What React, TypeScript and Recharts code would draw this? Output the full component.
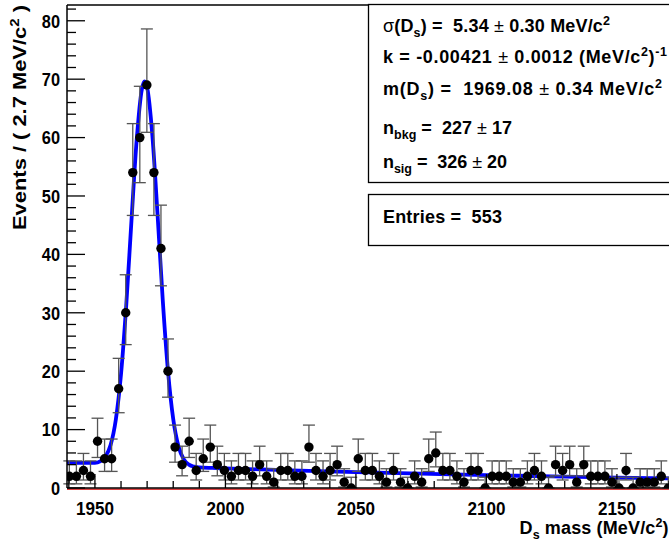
import React from "react";
import { ComposedChart, Line, Scatter, ErrorBar, XAxis, YAxis, ReferenceLine } from "recharts";

// histogram bins (2.7 MeV/c^2 wide), centres in MeV/c^2
const BIN_CENTERS = [
  1940.2, 1942.9, 1945.6, 1948.3, 1951.0, 1953.7, 1956.4, 1959.1, 1961.8, 1964.5,
  1967.2, 1969.9, 1972.6, 1975.3, 1978.0, 1980.7, 1983.4, 1986.1, 1988.8, 1991.5,
  1994.2, 1996.9, 1999.6, 2002.3, 2005.0, 2007.7, 2010.4, 2013.1, 2015.8, 2018.5,
  2021.2, 2023.9, 2026.6, 2029.3, 2032.0, 2034.7, 2037.4, 2040.1, 2042.8, 2045.5,
  2048.2, 2050.9, 2053.6, 2056.3, 2059.0, 2061.7, 2064.4, 2067.1, 2069.8, 2072.5,
  2075.2, 2077.9, 2080.6, 2083.3, 2086.0, 2088.7, 2091.4, 2094.1, 2096.8, 2099.5,
  2102.2, 2104.9, 2107.6, 2110.3, 2113.0, 2115.7, 2118.4, 2121.1, 2123.8, 2126.5,
  2129.2, 2131.9, 2134.6, 2137.3, 2140.0, 2142.7, 2145.4, 2148.1, 2150.8, 2153.5,
  2156.2, 2158.9, 2161.6, 2164.3, 2167.0, 2169.7,
];

const COUNTS = [
  2, 2, 3, 2, 8, 5, 5, 17, 30, 54,
  60, 69, 54, 41, 20, 7, 4, 8, 3, 5,
  7, 4, 3, 2, 3, 3, 2, 4, 2, 1,
  3, 3, 2, 2, 7, 3, 2, 3, 4, 1,
  0, 5, 3, 3, 2, 1, 3, 1, 0, 2,
  1, 5, 6, 3, 3, 2, 1, 3, 3, 0,
  2, 2, 2, 1, 1, 2, 3, 2, 0, 4,
  3, 4, 1, 4, 2, 2, 2, 1, 0, 3,
  0, 1, 1, 1, 2, 0,
];

// asymmetric (Poisson) error bar lengths, looked up by count
const ERR_LO: Record<number, number> = {
  0: 0, 1: 0.83, 2: 1.29, 3: 1.63, 4: 1.91, 5: 2.16, 6: 2.38, 7: 2.58, 8: 2.77,
  17: 4.11, 20: 4.45, 30: 5.45, 41: 6.38, 54: 7.33, 60: 7.72, 69: 8.1,
};
const ERR_HI: Record<number, number> = {
  0: 1.84, 1: 2.3, 2: 2.64, 3: 2.92, 4: 3.16, 5: 3.38, 6: 3.58, 7: 3.77, 8: 3.95,
  17: 5.2, 20: 5.52, 30: 6.51, 41: 7.43, 54: 8.39, 60: 8.78, 69: 9.6,
};

// fitted curve (gauss + exponential)
const FIT_X = [
  1939.3, 1945, 1950, 1952, 1954, 1956, 1958, 1960, 1962, 1964, 1966, 1968, 1969,
  1970, 1972, 1974, 1976, 1978, 1980, 1982, 1984, 1986, 1988, 1990, 1995, 2000,
  2025, 2050, 2075, 2100, 2125, 2150, 2175, 2190,
];
const FIT_Y = [
  4.4, 4.3, 4.3, 4.55, 5.35, 7.35, 11.7, 19.5, 31.3, 45.8, 59.6, 68.3, 69.6,
  68.6, 60.4, 46.8, 32.1, 20.0, 11.8, 7.15, 4.95, 4.0, 3.65, 3.53, 3.43, 3.36,
  3.03, 2.73, 2.46, 2.21, 1.99, 1.79, 1.61, 1.52,
];

const X_TICKS = [1940, 1950, 1960, 1970, 1980, 1990, 2000, 2010, 2020, 2030, 2040, 2050, 2060, 2070, 2080, 2090, 2100, 2110, 2120, 2130, 2140, 2150, 2160, 2170, 2180];
const X_LABELS = [1950, 2000, 2050, 2100, 2150];
const Y_TICKS = [0, 2, 4, 6, 8, 10, 12, 14, 16, 18, 20, 22, 24, 26, 28, 30, 32, 34, 36, 38, 40, 42, 44, 46, 48, 50, 52, 54, 56, 58, 60, 62, 64, 66, 68, 70, 72, 74, 76, 78, 80, 82];
const Y_LABELS = [0, 10, 20, 30, 40, 50, 60, 70, 80];

const X_MIN = 1939.3;
const X_MAX = 2189.5;
const Y_MAX = 82.7;

const FONT = '"Liberation Sans", Arial, Helvetica, sans-serif';

const points = BIN_CENTERS.map((x, i) => ({
  x,
  y: COUNTS[i],
  err: [ERR_LO[COUNTS[i]], ERR_HI[COUNTS[i]]],
}));
const fit = FIT_X.map((x, i) => ({ x, y: FIT_Y[i] }));

function YTick(props: any) {
  const { x, y, payload } = props;
  const major = Y_LABELS.includes(payload.value);
  const s = String(payload.value);
  return (
    <g>
      <line x1={x} x2={x + (major ? 18 : 9)} y1={y} y2={y} stroke="#000" strokeWidth={1.3} />
      {major && (
        <text x={x - 7} y={y + 6.8} textAnchor="end" fontFamily={FONT} fontWeight="bold" fontSize={18.5}
          fill="#000" textLength={s.length * 9.1} lengthAdjust="spacingAndGlyphs">
          {s}
        </text>
      )}
    </g>
  );
}

function XTick(props: any) {
  const { x, y, payload } = props;
  const major = X_LABELS.includes(payload.value);
  return (
    <g>
      <line x1={x} x2={x} y1={y} y2={y - (major ? 14 : 7)} stroke="#000" strokeWidth={1.3} />
      {major && (
        <text x={x} y={y + 26.5} textAnchor="middle" fontFamily={FONT} fontWeight="bold" fontSize={19}
          fill="#000" textLength={38} lengthAdjust="spacingAndGlyphs">
          {payload.value}
        </text>
      )}
    </g>
  );
}

function Dot(props: any) {
  const { cx, cy } = props;
  return <circle cx={cx} cy={cy} r={4.7} fill="#000" />;
}

const N = { fontWeight: "normal" } as const;

// one line of the parameter box; baseline y, reference width w
function BoxLine({ y, w, children }: { y: number; w: number; children: React.ReactNode }) {
  return (
    <text x={383} y={y} textLength={w} lengthAdjust="spacing" style={{ whiteSpace: "pre" }}>
      {children}
    </text>
  );
}

export default function App() {
  return (
    <div style={{ position: "fixed", left: 0, top: 0, width: 669, height: 544, overflow: "hidden", background: "#fff" }}>
      <ComposedChart width={720} height={544} margin={{ top: 5, right: 0, bottom: 0, left: 7 }}>
        <XAxis
          type="number"
          dataKey="x"
          domain={[X_MIN, X_MAX]}
          ticks={X_TICKS}
          interval={0}
          height={56}
          tickSize={0}
          tickMargin={0}
          tickLine={false}
          axisLine={{ stroke: "#000", strokeWidth: 1.5 }}
          tick={<XTick />}
          allowDataOverflow
        />
        <YAxis
          type="number"
          dataKey="y"
          domain={[0, Y_MAX]}
          ticks={Y_TICKS}
          interval={0}
          width={60}
          tickSize={0}
          tickMargin={0}
          tickLine={false}
          axisLine={{ stroke: "#000", strokeWidth: 1.5 }}
          tick={<YTick />}
          allowDataOverflow
        />
        <ReferenceLine y={Y_MAX} stroke="#000" strokeWidth={1.5} />
        <ReferenceLine y={-0.2} stroke="#d00000" strokeWidth={1.2} ifOverflow="visible" />
        <Line data={fit} dataKey="y" type="monotone" stroke="#0000ff" strokeWidth={3.8} dot={false} activeDot={false} isAnimationActive={false} />
        <Scatter data={points} dataKey="y" shape={<Dot />} isAnimationActive={false}>
          <ErrorBar dataKey="err" direction="y" width={6} stroke="#555" strokeWidth={1.3} isAnimationActive={false} />
        </Scatter>
      </ComposedChart>

      <svg width={669} height={544} style={{ position: "absolute", left: 0, top: 0, pointerEvents: "none" }}
        fontFamily={FONT} fontWeight="bold" fontSize={18} fill="#000">
        {/* fit parameter box */}
        <rect x={368.5} y={4.5} width={400} height={178} fill="#fff" stroke="#000" strokeWidth={1.3} />
        <BoxLine y={31.5} w={227}>
          <tspan style={N}>σ</tspan>(D<tspan dy={5} fontSize={12.5}>s</tspan>
          <tspan dy={-5}>) =  5.34 </tspan><tspan style={N}>±</tspan> 0.30 MeV/c
          <tspan dy={-7} fontSize={12.5}>2</tspan>
        </BoxLine>
        <BoxLine y={63.2} w={284}>
          k = -0.00421 <tspan style={N}>±</tspan> 0.0012 (MeV/c<tspan dy={-7} fontSize={12.5}>2</tspan>
          <tspan dy={7}>)</tspan><tspan dy={-7} fontSize={12.5}>-1</tspan>
        </BoxLine>
        <BoxLine y={94.8} w={279}>
          m(D<tspan dy={5} fontSize={12.5}>s</tspan>
          <tspan dy={-5}>) =  1969.08 </tspan><tspan style={N}>±</tspan> 0.34 MeV/c
          <tspan dy={-7} fontSize={12.5}>2</tspan>
        </BoxLine>
        <BoxLine y={134.2} w={129}>
          n<tspan dy={5} fontSize={12.5}>bkg</tspan>
          <tspan dy={-5}> =  227 </tspan><tspan style={N}>±</tspan> 17
        </BoxLine>
        <BoxLine y={168.2} w={124}>
          n<tspan dy={5} fontSize={12.5}>sig</tspan>
          <tspan dy={-5}> =  326 </tspan><tspan style={N}>±</tspan> 20
        </BoxLine>

        {/* stats box */}
        <rect x={368.5} y={194.5} width={400} height={51} fill="#fff" stroke="#000" strokeWidth={1.3} />
        <BoxLine y={222.5} w={119}>Entries =  553</BoxLine>

        {/* axis titles */}
        <text x={668.5} y={534} textAnchor="end" textLength={149} lengthAdjust="spacing" style={{ whiteSpace: "pre" }}>
          D<tspan dy={5} fontSize={12.5}>s</tspan>
          <tspan dy={-5}> mass (MeV/c</tspan><tspan dy={-7} fontSize={12.5}>2</tspan>
          <tspan dy={7}>)</tspan>
        </text>
        <text transform="translate(25.5, 5) rotate(-90)" textAnchor="end" fontSize={17.5} textLength={225}
          lengthAdjust="spacingAndGlyphs" style={{ whiteSpace: "pre" }}>
          Events / ( 2.7 MeV/c<tspan dy={-7} fontSize={12}>2</tspan>
          <tspan dy={7}> )</tspan>
        </text>
      </svg>
    </div>
  );
}
